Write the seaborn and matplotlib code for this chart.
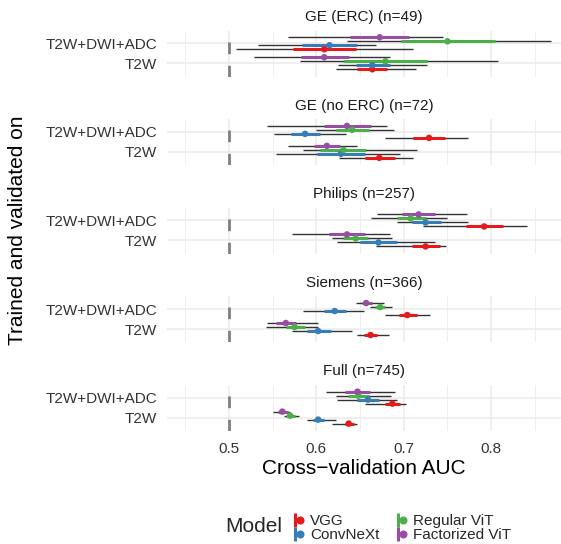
import numpy as np
import pandas as pd
import matplotlib
matplotlib.use("Agg")
import matplotlib.pyplot as plt
from matplotlib.lines import Line2D
from matplotlib.legend_handler import HandlerTuple
import seaborn as sns

datasets = ["GE (ERC) (n=49)", "GE (no ERC) (n=72)", "Philips (n=257)",
            "Siemens (n=366)", "Full (n=745)"]
sequences = ["T2W+DWI+ADC", "T2W"]
models = ["VGG", "ConvNeXt", "Regular ViT", "Factorized ViT"]
colors = ["#E41A1C", "#377EB8", "#4DAF4A", "#984EA3"]

# order: dataset -> sequence -> model
auc = [0.609, 0.615, 0.750, 0.6725, 0.664, 0.664, 0.679, 0.609,
       0.729, 0.587, 0.641, 0.635, 0.672, 0.628, 0.631, 0.612,
       0.792, 0.725, 0.708, 0.717, 0.725, 0.671, 0.645, 0.635,
       0.704, 0.621, 0.673, 0.657, 0.662, 0.602, 0.575, 0.565,
       0.687, 0.659, 0.648, 0.647, 0.637, 0.602, 0.570, 0.561]
inner_lo = [0.573, 0.584, 0.697, 0.639, 0.646, 0.645, 0.631, 0.582,
            0.711, 0.571, 0.622, 0.609, 0.656, 0.601, 0.604, 0.597,
            0.771, 0.709, 0.692, 0.698, 0.709, 0.650, 0.631, 0.614,
            0.694, 0.609, 0.667, 0.652, 0.655, 0.589, 0.565, 0.554,
            0.678, 0.646, 0.636, 0.633, 0.633, 0.596, 0.565, 0.556]
inner_hi = [0.645, 0.646, 0.805, 0.706, 0.681, 0.684, 0.727, 0.637,
            0.747, 0.604, 0.660, 0.662, 0.690, 0.656, 0.657, 0.627,
            0.814, 0.743, 0.726, 0.736, 0.741, 0.692, 0.659, 0.656,
            0.715, 0.634, 0.678, 0.664, 0.669, 0.617, 0.587, 0.577,
            0.696, 0.672, 0.660, 0.661, 0.643, 0.609, 0.576, 0.567]
outer_lo = [0.508, 0.533, 0.635, 0.567, 0.623, 0.625, 0.581, 0.529,
            0.678, 0.551, 0.599, 0.543, 0.626, 0.554, 0.585, 0.568,
            0.722, 0.692, 0.662, 0.669, 0.668, 0.624, 0.618, 0.572,
            0.679, 0.585, 0.661, 0.645, 0.646, 0.572, 0.542, 0.543,
            0.656, 0.624, 0.623, 0.611, 0.618, 0.589, 0.563, 0.550]
outer_hi = [0.711, 0.668, 0.869, 0.745, 0.714, 0.727, 0.808, 0.684,
            0.773, 0.634, 0.689, 0.681, 0.711, 0.696, 0.715, 0.646,
            0.841, 0.773, 0.750, 0.772, 0.748, 0.736, 0.687, 0.684,
            0.730, 0.654, 0.687, 0.677, 0.683, 0.641, 0.602, 0.602,
            0.703, 0.692, 0.685, 0.690, 0.647, 0.623, 0.580, 0.570]

rows = []
for d in datasets:
    for s in sequences:
        for m in models:
            rows.append(dict(dataset=d, sequence=s, model=m))
df = pd.DataFrame(rows)
df["auc"] = auc
df["ilo"] = inner_lo
df["ihi"] = inner_hi
df["olo"] = outer_lo
df["ohi"] = outer_hi
seq_pos = {"T2W": 0, "T2W+DWI+ADC": 1}
dodge = {m: (k - 1.5) * 0.2 for k, m in enumerate(models)}
df["ypos"] = df["sequence"].map(seq_pos) + df["model"].map(dodge)

sns.set_theme(style="white")
plt.rcParams["font.family"] = ["Liberation Sans", "DejaVu Sans"]

W, H = 561, 544
fig, axes = plt.subplots(5, 1, figsize=(W / 100, H / 100), dpi=100, sharex=True)
fig.subplots_adjust(left=167 / W, right=1.0, top=1 - 30.7 / H,
                    bottom=1 - 431 / H, hspace=42.7 / 46)

palette = dict(zip(models, colors))
grid_c = "#EBEBEB"
for ax, d in zip(axes, datasets):
    sub = df[df["dataset"] == d]
    ax.set_xlim(0.429, 0.880)
    ax.set_ylim(-0.67, 1.63)
    for x in [0.45, 0.55, 0.65, 0.75, 0.85]:
        ax.axvline(x, color=grid_c, lw=0.6, zorder=0)
    for x in [0.5, 0.6, 0.7, 0.8]:
        ax.axvline(x, color=grid_c, lw=1.1, zorder=0)
    for y in [0, 1]:
        ax.axhline(y, color=grid_c, lw=1.1, zorder=0)
    ax.axvline(0.5, color="#7F7F7F", lw=2.0, ls=(0, (4.2, 4.2)), zorder=1)
    ax.hlines(sub["ypos"], sub["olo"], sub["ohi"], color="#333333", lw=1.0, zorder=2)
    for m in models:
        r = sub[sub["model"] == m]
        ax.hlines(r["ypos"], r["ilo"], r["ihi"], color=palette[m], lw=2.2, zorder=3)
    sns.scatterplot(data=sub, x="auc", y="ypos", hue="model", palette=palette,
                    hue_order=models, s=22, linewidth=0, legend=False, ax=ax, zorder=4)
    ax.set_yticks([1, 0])
    ax.set_yticklabels(sequences)
    ax.set_xticks([0.5, 0.6, 0.7, 0.8])
    ax.set_xticklabels(["0.5", "0.6", "0.7", "0.8"])
    ax.tick_params(axis="both", length=0, labelsize=11, colors="#333333", pad=7)
    ax.tick_params(axis="x", pad=8)
    for sp in ax.spines.values():
        sp.set_visible(False)
    ax.set_xlabel("")
    ax.set_ylabel("")
    ax.set_title(d, fontsize=11, color="#1A1A1A", pad=7)

fig.text(364 / W, 1 - 468 / H, "Cross\u2212validation AUC", fontsize=15,
         ha="center", va="center", color="black")
fig.text(18 / W, 1 - 230 / H, "Trained and validated on", fontsize=15,
         rotation=90, ha="center", va="center", color="black")
fig.text(225 / W, 1 - 526 / H, "Model", fontsize=15, ha="left", va="center")

handles = []
for m, c in zip(models, colors):
    h1 = Line2D([], [], marker="|", color=c, markersize=9.5, markeredgewidth=2.2, ls="none")
    h2 = Line2D([], [], marker="o", color=c, markersize=4.8, ls="none")
    handles.append((h1, h2))
leg = fig.legend(handles, models,
                 handler_map={tuple: HandlerTuple(ndivide=None)},
                 ncol=2, loc="center left", bbox_to_anchor=(293 / W, 1 - 528 / H),
                 frameon=False, fontsize=11, handlelength=0.6, handletextpad=0.5,
                 labelspacing=-0.02, columnspacing=1.1, borderaxespad=0, borderpad=0)

fig.savefig("out.png", dpi=100)
